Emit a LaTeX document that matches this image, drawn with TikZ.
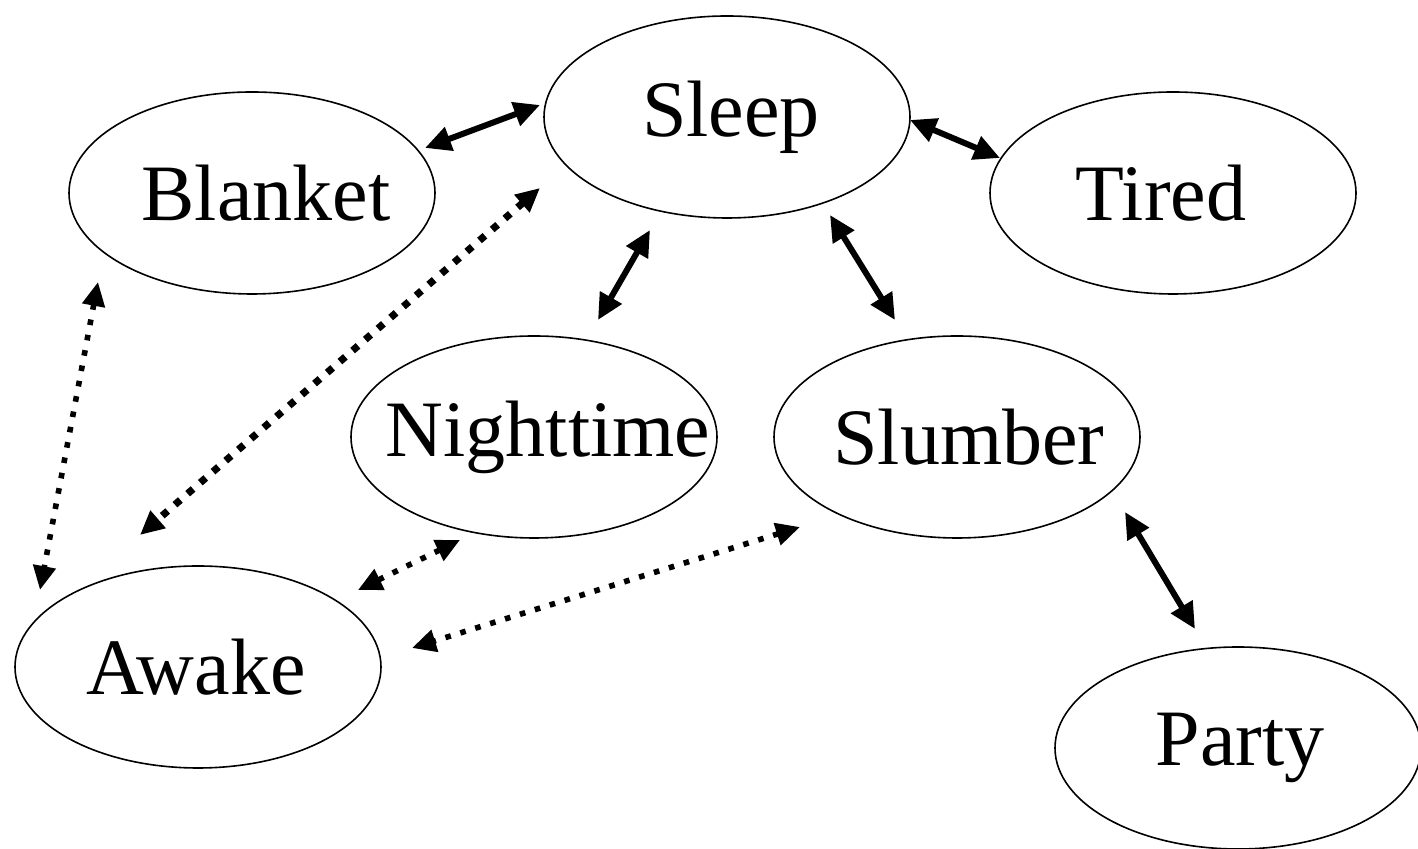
\documentclass[tikz,border=0pt]{standalone}
\usepackage{fontspec}
\setmainfont{Liberation Serif}
\usetikzlibrary{shapes.geometric, arrows.meta}

\tikzset{
  word/.style = {ellipse, draw, line width = 0.8pt, inner sep = 0pt,
                 minimum width = 183pt, minimum height = 101pt,
                 font = \fontsize{40}{40}\selectfont},
  link/.style = {line width = 3pt, {Triangle[length=13pt, width=12pt]}-{Triangle[length=13pt, width=12pt]}},
  dots/.style = {line width = 2.8pt, dash pattern = on 2.8pt off 5pt,
                 {Triangle[length=12pt, width=11pt]}-{Triangle[length=12pt, width=11pt]}},
  bigdots/.style = {dots, line width = 3.6pt, dash pattern = on 3.6pt off 4.8pt}
}
% text nudged sideways inside its ellipse
\newcommand\wordbox[2][0pt]{\makebox[0pt]{\kern#1#2\kern-#1}}

\begin{document}
\begin{tikzpicture}[x = 0.5pt, y = 0.5pt]

\useasboundingbox (0, 0) rectangle (1418, 849);

% the words
\node[word] (sleep)   at (727, 732)  {\wordbox[2pt]{Sleep}};
\node[word] (blanket) at (252, 656)  {\wordbox[7pt]{Blanket}};
\node[word] (tired)   at (1173, 656) {\wordbox[-6pt]{Tired}};
\node[word] (night)   at (534, 412)  {\wordbox[7pt]{Nighttime}};
\node[word] (slumber) at (957, 412)  {\wordbox[6pt]{Slumber}};
\node[word] (awake)   at (198, 182)  {\wordbox[-1pt]{Awake}};
\node[word] (party)   at (1238, 101) {\wordbox[1pt]{Party}};

% strong links
\foreach \a/\p/\b/\q in {blanket/{173,45}/sleep/{-187,12},
    sleep/{183,-3}/tired/{-173,35}, sleep/{-77,-113}/night/{64,117},
    sleep/{103,-98}/slumber/{-62,117}, slumber/{168,-75}/party/{-43,119}}
  \draw[link] ([shift={(\p)}]\a.center) -- ([shift={(\q)}]\b.center);

% weak links
\foreach \a/\p/\b/\q in {blanket/{-154,-89}/awake/{-158,77},
    night/{-74,-103}/awake/{160,77}, slumber/{-157,-90}/awake/{214,19}}
  \draw[dots] ([shift={(\p)}]\a.center) -- ([shift={(\q)}]\b.center);
\draw[bigdots] ([shift={(-187,-71)}]sleep.center) -- ([shift={(-58,132)}]awake.center);

\end{tikzpicture}
\end{document}
